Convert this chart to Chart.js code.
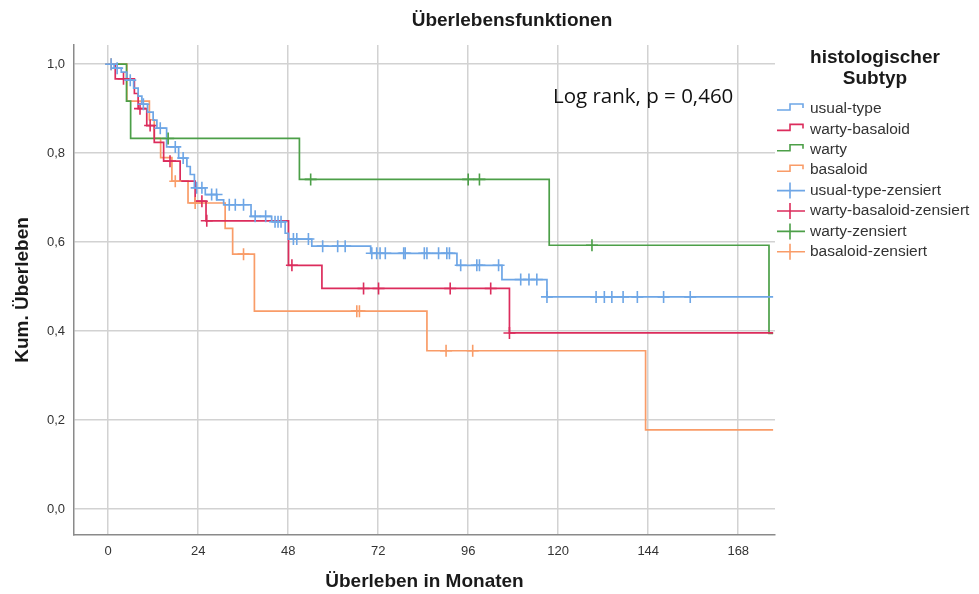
<!DOCTYPE html>
<html lang="de">
<head>
<meta charset="UTF-8">
<title>Überlebensfunktionen</title>
<style>
  html, body { margin: 0; padding: 0; background: #fff; }
  #wrap { position: relative; width: 979px; height: 594px; }
</style>
</head>
<body>
<div id="wrap"><canvas id="kmChart"></canvas></div>

<script src="https://cdn.jsdelivr.net/npm/chart.js"></script>
<script>
// Kaplan-Meier: Ereigniszeitpunkte (Monate) und kum. Überleben nach dem Ereignis
const usualTimes = [0, 1.6, 3.5, 5.0, 6.8, 8.0, 9.0, 10.5, 12.0, 13.0, 15.6, 18.8, 21.0, 21.9, 23.0, 25.9, 29.0, 30.8, 38.1, 43.6, 47.2, 48.1, 54.3, 70.0, 93.0, 105.0, 117.0, 177.3];
const usualSurv  = [1.0, 0.991, 0.982, 0.964, 0.946, 0.928, 0.910, 0.892, 0.874, 0.856, 0.814, 0.789, 0.770, 0.752, 0.722, 0.707, 0.695, 0.684, 0.658, 0.646, 0.620, 0.607, 0.591, 0.575, 0.548, 0.516, 0.477, 0.477];
const usualCensored = [0.8, 2.4, 5.9, 9.4, 13.9, 17.9, 20.0, 23.6, 25.0, 27.6, 28.9, 32.3, 33.9, 36.1, 39.2, 42.0, 44.5, 45.3, 46.1, 49.4, 50.3, 53.4, 57.2, 61.2, 63.2, 70.3, 71.6, 72.5, 73.9, 78.8, 79.2, 84.3, 85.0, 88.1, 90.3, 91.0, 94.0, 98.3, 99.0, 104.1, 110.0, 112.2, 114.3, 117.0, 130.1, 132.3, 134.3, 137.3, 141.1, 148.1, 155.2];

const wbTimes = [0, 1.9, 7.0, 8.0, 10.3, 12.3, 14.8, 19.2, 23.2, 26.1, 48.1, 57.0, 107.0, 177.3];
const wbSurv  = [1.0, 0.967, 0.934, 0.900, 0.862, 0.824, 0.782, 0.737, 0.692, 0.648, 0.548, 0.496, 0.396, 0.396];
const wbCensored = [4.1, 8.5, 11.2, 16.5, 25.0, 26.3, 49.0, 68.1, 72.1, 91.2, 102.0, 107.0];

const wartyTimes = [0, 4.9, 6.0, 51.0, 117.6, 176.2, 177.3];
const wartySurv  = [1.0, 0.917, 0.833, 0.741, 0.593, 0.395, 0.395];
const wartyCensored = [16.0, 54.0, 96.0, 99.0, 129.0];

const basTimes = [0, 5.0, 11.0, 12.3, 14.0, 17.0, 21.3, 31.2, 33.2, 39.0, 85.0, 143.3, 177.3];
const basSurv  = [1.0, 0.917, 0.875, 0.833, 0.790, 0.737, 0.688, 0.631, 0.573, 0.445, 0.356, 0.178, 0.178];
const basCensored = [0.8, 17.9, 23.2, 36.1, 66.3, 67.0, 90.1, 97.2];

const groupNames = ['usual-type', 'warty-basaloid', 'warty', 'basaloid'];
const groupColors = ['#6ea6e6', '#dc2c5c', '#4c9f48', '#f99c68'];

const xTickValues = [0, 24, 48, 72, 96, 120, 144, 168];
const yTickValues = [0, 0.2, 0.4, 0.6, 0.8, 1.0];

const chartTitle = 'Überlebensfunktionen';
const legendTitle = ['histologischer', 'Subtyp'];
const logRankText = 'Log rank, p = 0,460';

// Wert der Treppenfunktion zum Zeitpunkt t
function survivalAt(times, surv, t) {
  let s = surv[0];
  for (let i = 0; i < times.length; i++) {
    if (times[i] <= t) s = surv[i];
  }
  return s;
}

const groups = [
  [usualTimes, usualSurv, usualCensored],
  [wbTimes, wbSurv, wbCensored],
  [wartyTimes, wartySurv, wartyCensored],
  [basTimes, basSurv, basCensored]
];

const datasets = [];
groups.forEach((g, i) => {
  datasets.push({
    label: groupNames[i],
    data: g[0].map((t, k) => ({ x: t, y: g[1][k] })),
    showLine: true,
    stepped: true,
    borderColor: groupColors[i],
    borderWidth: 1.7,
    pointRadius: 0,
    fill: false,
    order: 2
  });
});
groups.forEach((g, i) => {
  datasets.push({
    label: groupNames[i] + '-zensiert',
    data: g[2].map(t => ({ x: t, y: survivalAt(g[0], g[1], t) })),
    showLine: false,
    pointStyle: 'cross',
    pointRadius: 6,
    pointBorderWidth: 1.6,
    borderColor: groupColors[i],
    backgroundColor: groupColors[i],
    order: 1
  });
});

const legendItems = [];
groupNames.forEach((n, i) => legendItems.push({ text: n, color: groupColors[i], step: true }));
groupNames.forEach((n, i) => legendItems.push({ text: n + '-zensiert', color: groupColors[i], step: false }));

// Legendensymbol: Treppenstufe oder Zensierungskreuz
function drawLegendIcon(ctx, item, y) {
  ctx.save();
  ctx.beginPath();
  ctx.strokeStyle = item.color;
  ctx.lineWidth = 1.6;
  if (item.step) {
    ctx.moveTo(777, y + 1);
    ctx.lineTo(790, y + 1);
    ctx.lineTo(790, y - 5);
    ctx.lineTo(803, y - 5);
    ctx.lineTo(803, y - 1);
  } else {
    ctx.moveTo(777, y);
    ctx.lineTo(805, y);
    ctx.moveTo(790, y - 8);
    ctx.lineTo(790, y + 8);
  }
  ctx.stroke();
  ctx.beginPath();
  ctx.restore();
}

// Titel, Log-Rank-Angabe und Legende
const annotations = {
  id: 'kmText',
  afterDraw(chart) {
    const ctx = chart.ctx;
    ctx.save();
    ctx.beginPath();
    ctx.fillStyle = '#1a1a1a';
    ctx.textAlign = 'center';
    ctx.textBaseline = 'middle';
    ctx.font = 'bold 19px "Liberation Sans", Arial, sans-serif';
    ctx.fillText(chartTitle, 512, 21);
    ctx.fillText(legendTitle[0], 875, 58);
    ctx.fillText(legendTitle[1], 875, 79);

    ctx.textAlign = 'left';
    ctx.fillStyle = '#111';
    ctx.font = '20.5px "Open Sans", sans-serif';
    ctx.fillText(logRankText, 553, 97);

    ctx.font = '15.5px "Liberation Sans", Arial, sans-serif';
    ctx.fillStyle = '#333';
    legendItems.forEach((item, i) => {
      const y = 109 + i * 20.4;
      drawLegendIcon(ctx, item, y);
      ctx.fillText(item.text, 810, y);
    });
    ctx.restore();
  }
};

const gridColor = '#d2d2d2';
const axisColor = '#8a8a8a';
const tickFont = { family: '"Liberation Sans", Arial, sans-serif', size: 13 };
const titleFont = { family: '"Liberation Sans", Arial, sans-serif', size: 19, weight: 'bold' };

new Chart(document.getElementById('kmChart'), {
  type: 'scatter',
  data: { datasets: datasets },
  options: {
    responsive: true,
    maintainAspectRatio: false,
    animation: false,
    events: [],
    layout: { padding: { left: 0, top: 45, right: 204, bottom: 0 } },
    plugins: {
      legend: { display: false },
      title: { display: false },
      tooltip: { enabled: false }
    },
    scales: {
      x: {
        type: 'linear',
        min: -9.1,
        max: 177.8,
        afterBuildTicks: s => { s.ticks = xTickValues.map(v => ({ value: v })); },
        afterFit: s => { s.height = 59; },
        grid: { color: gridColor, lineWidth: 1.5, drawTicks: false },
        border: { display: true, color: axisColor, width: 1.5 },
        ticks: {
          color: '#333',
          font: tickFont,
          padding: 9,
          maxRotation: 0,
          callback: v => String(v)
        },
        title: {
          display: true,
          text: 'Überleben in Monaten',
          color: '#1a1a1a',
          font: titleFont,
          padding: { top: 0, bottom: 1 }
        }
      },
      y: {
        type: 'linear',
        min: -0.058,
        max: 1.043,
        afterBuildTicks: s => { s.ticks = yTickValues.map(v => ({ value: v })); },
        afterFit: s => { s.width = 74; },
        grid: { color: gridColor, lineWidth: 1.5, drawTicks: false },
        border: { display: true, color: axisColor, width: 1.5 },
        ticks: {
          color: '#333',
          font: tickFont,
          padding: 9,
          callback: v => v.toFixed(1).replace('.', ',')
        },
        title: {
          display: true,
          text: 'Kum. Überleben',
          color: '#1a1a1a',
          font: titleFont,
          padding: { top: 11, bottom: 0 }
        }
      }
    }
  },
  plugins: [annotations]
});
</script>
</body>
</html>
